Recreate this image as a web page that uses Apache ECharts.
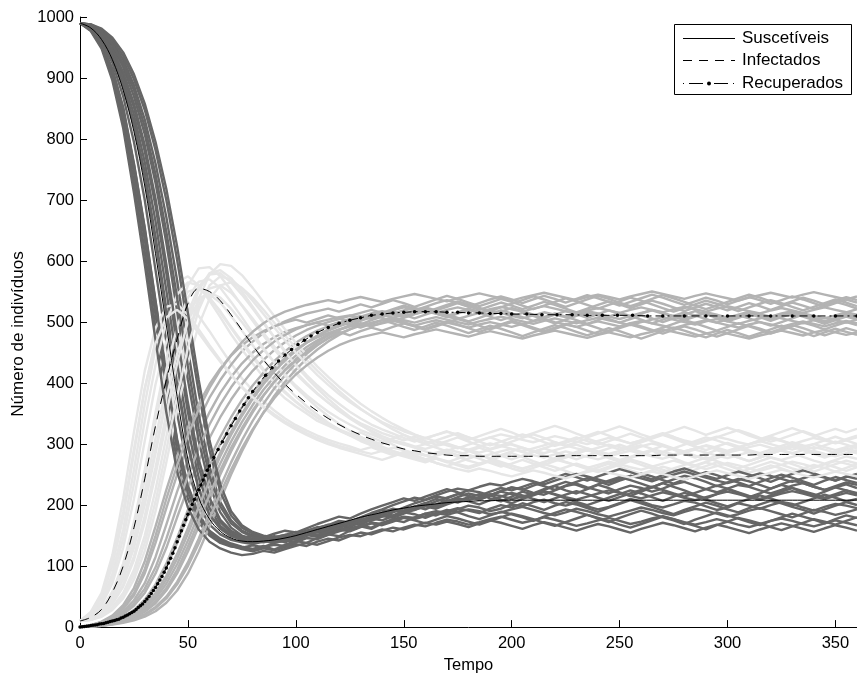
<!DOCTYPE html>
<html>
<head>
<meta charset="utf-8">
<script src="https://cdn.jsdelivr.net/npm/echarts/dist/echarts.min.js"></script>
<style>
  html, body { margin: 0; padding: 0; background: #fff; }
  #chart { width: 857px; height: 679px; }
</style>
</head>
<body>
<div id="chart"></div>
<script>
// Time grid shared by the stochastic realizations and the S / I curves
const tempo = [0,5,10,15,20,25,30,35,40,45,50,55,60,65,70,75,80,85,90,95,100,105,110,115,120,125,130,135,140,145,150,155,160,165,170,175,180,185,190,195,200,205,210,215,220,225,230,235,240,245,250,255,260,265,270,275,280,285,290,295,300,305,310,315,320,325,330,335,340,345,350,355,360];

// Deterministic SIR solution
const sDet = [990,982,963,930,880,812,723,612,495,378,275,212,177,157,146,141,140,141,143,146,150,155,160,165,170,175,180,184,188,192,195,198,200,202,204,205,206,207,207,208,208,208,208,208,208,208,208,208,208,208,208,208,208,208,208,208,208,208,208,208,208,208,208,208,208,208,208,208,208,208,208,208,208];
const iDet = [10,16,29,57,100,163,243,330,405,472,530,555,550,535,512,487,462,438,417,398,382,367,354,342,332,323,315,308,302,297,292,289,286,284,282,281,281,280,280,280,280,280,280,280,280,281,281,281,281,281,281,281,281,281,282,282,282,282,282,282,282,282,282,283,283,283,283,283,283,283,283,283,283];
// Recovered curve is sampled at the solver's (variable) steps; a marker sits on each one
const rTempo = [0,1,2,3,4,5,6,7,8,9,10,11,12,13,14,15,16,17,18,19,20,21,22,23,24,25,26,27,28,29,30,31,32,33,34,35,36,37,38,39,40,41,42,43,44,45,46,47,48,49,50,51,52,53,54,55,56,57,58,59,60,62,64,66,68,70,72,74,76,78,80,83,86,89,92,95,98,101,104,107,110,115,120,125,130,135,140,145,150,155,160,165,170,175,180,185,190,195,200,207,214,221,228,235,242,249,256,263,270,280,290,300,310,320,330,340,350,360];
const rDet = [0,0.5,1,1.5,2,2.5,3,3.5,4,5,5.5,6,7,8,9,10,11,12,13,15,16,18,20,22,24,26,29,32,35,38,42,46,50,55,60,65,71,77,83,90,97,105,113,121,130,140,149,158,167,176,185,193,201,209,217,225,233,241,249,257,264,278,291,304,317,330,342,354,365,376,386,400,413,425,436,446,455,463,470,477,483,491,498,503,507,511,513,515,516,517,517,517,516,516,515,515,514,514,513,513,512,512,512,511,511,511,511,510,510,510,510,510,510,510,510,510,510,510];

// Stochastic realizations: susceptible
const sRuns = [
  [990,978,952,905,830,728,615,490,372,272,210,172,150,138,132,130,134,131,138,142,140,150,156,152,163,170,168,178,185,182,190,198,193,201,208,204,212,218,211,206,214,222,217,225,231,224,219,226,233,228,221,215,222,229,236,230,224,217,211,218,226,220,213,219,227,233,228,221,215,222,229,224,218],
  [990,980,956,915,852,760,655,535,418,308,232,185,158,145,137,132,128,133,127,135,141,138,146,152,149,158,165,161,170,176,172,180,186,183,190,195,191,187,194,200,196,203,198,192,199,205,201,195,189,196,202,208,203,197,191,185,192,198,204,199,193,188,195,201,207,203,197,192,186,193,199,205,200],
  [990,981,960,925,870,795,700,585,468,350,258,200,168,152,143,139,136,140,144,139,147,153,150,158,165,171,168,176,182,179,186,192,198,194,201,207,213,209,216,222,218,212,219,226,232,238,233,227,234,240,246,241,235,229,236,242,248,244,238,231,237,243,239,233,227,234,240,236,230,225,231,237,233],
  [990,983,965,935,890,828,745,640,522,405,300,228,185,162,150,144,141,145,140,148,152,158,155,162,168,164,172,178,175,182,188,185,179,186,192,188,182,177,183,189,185,180,174,181,187,193,189,184,178,172,179,185,191,186,180,175,169,176,182,188,183,178,172,167,174,180,186,181,176,170,177,183,179],
  [990,985,970,944,905,852,780,690,580,462,352,262,205,172,155,146,142,139,143,147,143,150,156,161,158,166,173,180,186,183,190,197,203,210,206,213,219,215,222,228,224,230,236,231,225,232,238,244,239,233,240,246,252,247,241,235,242,248,254,249,243,237,231,238,244,250,245,239,233,240,246,241,236],
  [990,986,974,952,918,870,808,728,630,518,405,305,232,188,163,150,144,141,138,142,146,151,148,155,160,157,164,170,167,173,179,175,170,176,182,178,173,168,174,180,186,182,177,171,166,172,178,184,179,174,168,163,169,175,181,177,171,166,160,167,173,179,175,170,164,159,165,171,177,173,168,174,180],
  [990,987,977,958,930,888,832,760,672,568,455,348,262,205,175,158,150,146,149,145,152,158,164,160,167,174,171,178,185,191,188,195,201,197,204,210,206,201,208,214,220,216,210,205,211,217,223,218,212,207,213,219,225,230,225,219,214,220,226,232,227,221,215,210,216,222,228,223,218,212,218,224,220],
  [990,979,954,910,842,745,635,512,395,290,220,178,154,140,133,128,124,129,126,131,136,133,140,145,142,149,155,152,158,163,160,166,171,168,173,169,164,170,175,171,166,161,167,172,168,163,158,164,169,165,160,155,161,166,171,167,162,157,163,168,164,159,154,160,165,170,166,161,156,162,167,163,158],
  [990,984,967,940,898,840,762,665,552,432,325,245,195,166,152,146,150,147,153,158,155,162,169,175,181,178,186,193,199,205,211,207,214,220,226,221,215,210,216,209,203,210,216,222,217,211,205,200,206,212,218,224,219,213,207,214,220,215,209,203,198,204,210,216,211,205,199,205,211,217,212,206,210],
  [990,988,979,962,936,898,848,782,700,602,492,385,290,222,183,163,153,148,145,150,147,153,159,156,163,170,177,174,181,188,195,192,199,206,212,218,215,209,216,223,229,225,232,238,245,251,246,240,247,253,259,254,248,242,249,255,260,254,248,243,249,255,250,244,238,245,251,257,252,246,240,247,243],
  [990,980,957,914,850,758,652,532,415,305,230,183,157,143,134,129,127,131,135,133,139,146,144,151,157,162,166,163,171,177,181,179,186,190,187,193,199,196,190,194,201,198,205,209,203,199,204,198,193,197,203,210,206,200,196,201,207,204,198,192,196,203,199,194,200,205,202,196,191,197,202,199,195],
  [990,982,964,933,886,822,738,632,515,398,296,226,184,161,149,143,138,141,147,151,149,156,163,167,174,172,179,186,192,189,196,203,208,214,211,218,224,221,216,223,229,226,220,217,224,231,235,229,224,219,226,232,228,222,227,234,238,232,226,221,227,233,230,224,219,225,232,236,230,225,229,234,228],
  [990,985,971,947,910,858,790,702,595,478,368,275,212,176,158,149,145,142,146,141,148,153,151,157,163,160,166,171,169,175,180,177,182,187,184,189,193,190,185,188,193,197,192,187,183,188,194,190,185,181,186,191,196,192,187,183,189,194,191,186,181,185,191,195,190,185,180,186,192,189,184,188,193],
  [990,987,976,955,924,880,820,742,648,540,428,325,248,198,170,156,148,144,141,146,151,157,162,168,166,173,180,187,193,200,206,212,209,216,222,227,224,230,235,232,238,243,239,234,240,246,251,247,242,237,243,248,244,239,245,250,255,250,245,240,236,241,247,252,248,243,238,244,249,245,240,246,251],
  [990,977,948,896,818,712,595,470,352,255,196,160,140,129,122,118,120,125,122,128,133,138,135,141,147,151,149,155,160,157,163,168,165,171,176,173,168,172,177,181,176,171,175,180,176,171,166,170,175,179,174,169,173,178,182,177,172,168,172,177,173,168,164,169,174,178,174,169,165,170,175,171,167],
  [990,988,981,966,942,906,858,795,718,624,515,405,306,234,190,167,156,150,147,151,156,153,159,165,171,168,175,182,188,194,191,197,203,200,206,211,208,213,218,215,210,214,219,223,218,213,209,214,219,224,220,215,211,216,221,217,212,208,213,218,222,218,213,209,214,219,223,219,214,210,215,220,216]
];

// Stochastic realizations: infected
const iRuns = [
  [10,22,48,100,180,285,390,470,522,541,533,510,485,458,432,408,388,370,355,342,331,322,314,307,301,296,290,295,288,282,287,280,275,281,286,279,273,268,274,280,285,279,272,266,272,278,284,290,284,277,271,277,283,289,283,277,270,265,271,277,283,278,272,278,284,290,285,279,273,268,274,280,276],
  [10,20,42,88,160,258,365,458,525,565,575,560,535,508,480,455,432,410,392,375,362,350,338,330,322,314,319,311,304,309,315,308,301,306,312,318,311,304,298,304,310,316,310,303,297,302,308,314,320,314,307,301,306,312,318,312,305,299,305,311,317,323,317,310,304,309,315,321,315,308,302,308,314],
  [10,18,36,72,130,210,305,398,468,520,550,555,540,518,492,468,445,423,403,386,370,356,343,332,323,315,308,300,294,288,283,289,282,276,270,276,282,276,269,263,268,274,268,262,256,262,268,262,257,263,269,275,270,264,258,252,258,264,270,265,259,253,259,265,271,266,260,255,261,267,262,256,262],
  [10,16,30,58,104,172,258,352,440,510,560,588,590,575,552,527,502,478,455,434,415,398,382,368,355,344,334,326,318,312,306,312,305,299,305,311,304,298,292,298,304,310,316,310,303,297,303,309,303,297,291,297,303,309,315,309,302,296,290,296,302,296,290,285,291,297,303,298,292,298,304,299,293],
  [10,15,26,50,88,145,222,310,395,465,515,540,545,532,510,486,462,438,416,396,378,362,348,335,324,314,305,298,291,285,280,275,270,276,271,265,260,266,272,266,260,255,261,267,262,256,250,256,262,268,263,257,251,257,263,258,252,258,264,270,265,259,253,259,265,260,254,260,266,261,255,261,267],
  [10,14,24,44,78,130,200,285,372,450,515,558,578,580,565,545,522,498,475,453,432,413,396,380,366,353,342,332,324,317,310,304,310,304,298,293,299,305,311,305,299,293,287,293,299,305,311,305,299,305,311,317,311,305,299,293,299,305,311,306,300,294,300,306,312,306,300,294,300,306,312,306,300],
  [10,13,21,38,66,110,172,250,335,415,482,528,555,560,548,528,506,482,460,438,418,400,383,368,354,342,331,322,313,306,300,294,288,283,289,295,289,282,276,282,288,294,288,281,275,281,287,293,287,280,274,279,285,291,297,291,284,278,284,290,284,278,272,278,284,290,296,290,284,278,284,290,285],
  [10,12,19,33,56,94,150,225,312,400,478,538,578,595,592,577,556,533,510,488,466,446,427,410,394,380,366,354,343,333,324,316,309,315,321,314,307,313,319,325,319,312,318,324,330,324,317,311,317,323,329,323,316,310,316,322,328,322,315,321,327,321,314,308,314,320,326,320,313,319,325,319,325],
  [10,12,17,28,47,78,125,190,270,355,432,495,538,560,565,556,540,520,499,478,458,438,420,403,387,372,358,346,334,324,315,307,300,294,288,282,288,294,288,281,275,281,287,293,287,281,275,281,287,293,299,293,287,281,287,293,287,281,275,281,287,293,287,281,287,293,299,293,287,281,287,293,288],
  [10,25,56,118,210,320,420,490,525,530,512,488,462,438,414,393,375,360,346,334,324,315,307,300,294,289,284,279,274,280,286,281,275,269,264,270,276,282,277,271,265,259,265,271,277,271,265,259,254,260,266,272,266,260,254,260,266,272,278,272,266,260,266,272,278,273,267,261,255,261,267,273,268],
  [10,19,40,80,145,235,338,430,500,545,565,560,540,515,490,465,442,420,401,384,369,355,343,333,324,317,311,305,300,306,302,296,292,297,301,295,290,286,291,296,300,294,289,285,290,295,299,293,288,284,289,294,298,292,287,283,288,293,297,291,286,290,295,299,294,289,285,290,295,291,286,291,296],
  [10,16,28,54,96,160,242,336,422,492,540,566,570,556,533,508,482,457,434,412,393,376,360,346,333,322,312,303,296,289,283,278,273,277,272,267,263,268,273,269,264,260,265,270,275,270,265,261,266,271,267,262,258,263,268,273,268,264,259,264,269,265,260,256,261,266,271,267,262,267,272,268,263],
  [10,14,25,46,82,136,208,292,376,448,502,535,548,540,522,500,477,455,434,414,396,380,366,353,342,332,323,316,309,304,299,295,300,305,300,295,291,296,301,297,292,288,293,298,303,298,293,289,294,299,295,290,296,301,297,292,288,293,298,294,289,295,300,305,300,295,291,296,300,295,290,295,299],
  [10,13,22,40,70,116,182,262,350,432,502,552,580,585,572,550,525,500,475,451,429,409,391,374,359,345,332,320,309,299,290,282,275,269,264,259,255,260,256,251,247,252,257,253,248,244,249,254,258,253,249,245,250,255,251,246,242,247,252,257,252,248,243,248,253,258,254,249,245,250,255,251,247],
  [10,23,52,108,190,292,392,465,508,520,505,482,458,435,413,394,377,362,349,337,327,318,310,303,297,292,288,284,289,294,290,285,281,286,291,287,282,278,283,288,292,287,282,278,283,288,284,279,275,280,285,289,284,280,276,281,286,291,286,281,277,282,287,283,278,274,279,284,289,284,280,285,290],
  [10,12,18,31,52,86,138,206,290,378,458,520,560,575,570,555,535,513,491,470,450,431,413,397,382,369,357,346,336,328,321,315,310,315,320,316,311,306,311,316,312,307,303,308,313,309,304,300,305,310,306,301,306,311,316,311,306,302,307,312,308,303,299,304,309,305,300,305,310,306,301,306,311]
];

// Stochastic realizations: recovered
const rRuns = [
  [0,3,8,16,30,52,88,138,195,250,298,340,376,405,430,452,468,482,493,501,508,514,518,522,517,523,529,524,530,536,531,525,531,537,543,538,532,526,532,538,533,527,521,527,533,539,534,528,522,528,534,540,535,529,523,517,523,529,535,530,524,518,524,530,536,531,525,519,525,531,537,532,526],
  [0,3,7,14,26,44,72,115,168,222,272,315,352,384,410,432,450,464,475,484,490,495,499,494,500,496,491,497,503,498,492,487,493,499,494,488,482,488,494,489,483,477,483,489,495,490,484,478,484,490,485,479,473,479,485,491,486,480,475,481,487,482,476,482,488,494,489,483,477,483,489,484,479],
  [0,2,6,12,21,35,56,88,130,180,228,272,310,344,373,398,420,438,454,467,478,487,494,500,505,510,515,520,515,521,527,522,516,522,528,534,529,523,518,524,530,536,542,537,531,525,531,537,543,538,532,526,532,538,544,539,533,527,521,527,533,539,545,540,534,528,534,540,535,529,535,541,536],
  [0,2,5,10,17,28,45,70,104,146,192,236,276,312,344,372,396,417,436,452,466,477,486,493,499,505,510,505,511,517,512,506,512,518,513,507,501,507,513,519,514,508,502,508,514,509,503,497,503,509,515,510,504,498,504,510,516,511,505,499,505,511,506,500,494,500,506,512,507,501,507,513,508],
  [0,1,4,8,14,23,36,56,84,120,162,206,248,286,320,350,377,400,420,438,453,466,477,486,493,499,504,508,512,507,513,519,524,519,525,531,526,520,526,532,527,521,527,533,528,522,516,522,528,534,529,523,529,535,530,524,518,524,530,525,519,525,531,526,520,526,532,527,521,527,533,528,522],
  [0,1,3,7,12,19,30,47,71,103,142,185,228,268,304,336,364,389,410,429,445,459,470,479,487,493,498,493,499,505,500,494,489,495,501,496,490,484,490,496,502,497,491,485,491,497,492,486,480,486,492,498,493,487,481,487,493,488,482,476,482,488,494,489,483,489,495,490,484,478,484,490,485],
  [0,1,3,6,10,16,25,39,60,88,124,165,208,250,288,322,352,379,402,422,439,454,467,478,487,495,502,508,513,519,524,519,525,531,536,531,525,531,537,542,537,531,537,543,538,532,538,544,539,533,527,533,539,545,540,534,528,534,540,535,529,535,541,536,530,536,542,537,531,525,531,537,532],
  [0,1,2,5,9,14,21,33,50,74,106,145,188,230,270,306,338,366,391,413,432,448,462,474,484,478,485,491,486,492,498,493,487,493,499,505,500,494,488,494,500,495,489,483,489,495,501,496,490,484,490,496,491,485,491,497,503,498,492,486,492,498,493,487,481,487,493,499,494,488,494,500,495],
  [0,1,2,4,7,11,17,26,40,60,88,124,165,208,250,288,322,352,379,402,422,440,455,468,479,488,496,503,509,514,509,515,521,516,510,516,522,517,511,517,523,518,512,506,512,518,513,507,513,519,514,508,514,520,515,509,503,509,515,510,504,510,516,511,505,511,517,512,506,500,506,512,507],
  [0,3,9,19,36,64,108,165,225,280,327,366,398,424,445,462,475,485,493,499,504,499,505,511,506,500,506,512,507,501,507,513,519,514,508,514,520,515,509,503,509,515,510,504,498,504,510,516,511,505,499,505,511,506,500,506,512,518,513,507,501,507,513,508,502,508,514,509,503,497,503,509,504],
  [0,2,6,13,23,39,63,98,145,198,248,293,332,365,393,417,437,454,468,479,488,495,500,504,508,511,507,512,516,512,508,513,517,514,509,505,510,515,519,515,510,506,511,516,512,508,513,518,514,509,505,510,515,519,514,510,506,511,516,512,507,512,517,513,509,514,518,514,510,506,511,516,512],
  [0,2,5,9,16,26,42,66,98,138,182,225,265,300,332,360,385,406,425,441,455,466,475,482,488,493,497,494,498,502,498,494,499,503,499,495,491,496,500,496,492,497,501,505,500,496,492,497,501,497,493,498,502,498,494,490,495,499,503,499,495,491,496,500,496,492,497,501,497,493,498,502,498],
  [0,1,4,8,13,21,33,51,78,112,153,197,240,280,315,346,374,398,419,437,453,467,478,488,496,503,509,514,518,514,519,523,519,515,520,524,520,516,521,525,521,517,522,526,522,518,514,519,523,519,515,520,524,520,516,521,525,521,517,522,526,522,518,514,519,523,519,515,520,524,520,516,521],
  [0,1,3,6,11,17,27,42,64,94,132,174,217,257,294,326,355,380,402,421,437,451,463,473,481,488,494,499,503,507,503,499,504,508,504,500,496,501,505,509,505,501,497,502,506,502,498,503,507,503,499,495,500,504,508,504,500,496,501,505,501,497,502,506,510,506,502,498,503,507,503,499,504],
  [0,3,8,17,32,56,95,150,210,265,315,357,392,421,446,467,484,498,509,517,523,528,532,536,532,537,541,537,533,538,542,546,542,538,534,539,543,547,543,539,535,540,544,548,544,540,536,541,545,541,537,542,546,550,546,542,538,543,547,543,539,535,540,544,548,544,540,545,549,545,541,537,542],
  [0,1,2,5,8,13,20,31,47,70,100,137,178,219,258,293,324,351,375,396,414,429,442,453,462,469,475,479,483,479,475,480,484,488,484,480,476,481,485,481,477,473,478,482,486,482,478,474,479,483,479,475,480,484,488,484,480,476,481,485,481,477,473,478,482,486,482,478,483,487,483,479,483]
];

const legendNames = ['Suscetíveis', 'Infectados', 'Recuperados'];
const xTicks = { min: 0, max: 360, step: 50 };
const yTicks = { min: 0, max: 1000, step: 100 };

const FONT = '"Liberation Sans", Arial, Helvetica, sans-serif';
const runColors = { s: '#666666', i: '#e6e6e6', r: '#b3b3b3' };

const pairs = (xs, ys) => ys.map((v, k) => [xs[k], v]);

const series = [];
// each realization draws its three compartments in turn
for (let k = 0; k < sRuns.length; k++) {
  [[sRuns[k], runColors.s], [iRuns[k], runColors.i], [rRuns[k], runColors.r]].forEach(([vals, color]) => {
    series.push({
      type: 'line',
      data: pairs(tempo, vals),
      symbol: 'none',
      silent: true,
      z: 1,
      lineStyle: { color: color, width: 2.4 },
      emphasis: { disabled: true }
    });
  });
}

series.push({
  name: legendNames[0], type: 'line', data: pairs(tempo, sDet),
  symbol: 'none', smooth: 0.35, z: 5,
  lineStyle: { color: '#000', width: 1 }, itemStyle: { color: '#000' }
});
series.push({
  name: legendNames[1], type: 'line', data: pairs(tempo, iDet),
  symbol: 'none', smooth: 0.35, z: 5,
  lineStyle: { color: '#000', width: 1, type: [9, 7] }, itemStyle: { color: '#000' }
});
series.push({
  name: legendNames[2], type: 'line', data: pairs(rTempo, rDet),
  symbol: 'circle', symbolSize: 3.5, showSymbol: true, z: 6,
  lineStyle: { color: '#000', width: 1, type: [8, 4, 2, 4] }, itemStyle: { color: '#000' }
});

// Legend box drawn by hand so each sample shows its own line style
const legendBox = { left: 674, top: 24, width: 177, height: 70 };
const legendRowsY = [38, 60, 83];
const sampleX = [683, 735];
const legendGraphics = [
  { type: 'rect', shape: { x: legendBox.left + 0.5, y: legendBox.top + 0.5, width: legendBox.width, height: legendBox.height },
    style: { fill: '#fff', stroke: '#000', lineWidth: 1 }, z: 100 },
  { type: 'line', shape: { x1: sampleX[0], y1: legendRowsY[0] + 0.5, x2: sampleX[1], y2: legendRowsY[0] + 0.5 },
    style: { stroke: '#000', lineWidth: 1 }, z: 101 },
  { type: 'line', shape: { x1: sampleX[0], y1: legendRowsY[1] + 0.5, x2: sampleX[1], y2: legendRowsY[1] + 0.5 },
    style: { stroke: '#000', lineWidth: 1, lineDash: [9, 7] }, z: 101 },
  { type: 'line', shape: { x1: sampleX[0], y1: legendRowsY[2] + 0.5, x2: sampleX[1], y2: legendRowsY[2] + 0.5 },
    style: { stroke: '#000', lineWidth: 1, lineDash: [1, 5, 14, 5] }, z: 101 },
  { type: 'circle', shape: { cx: (sampleX[0] + sampleX[1]) / 2, cy: legendRowsY[2] + 0.5, r: 2 },
    style: { fill: '#000' }, z: 102 }
];
legendNames.forEach((name, k) => {
  legendGraphics.push({
    type: 'text', x: 742, y: legendRowsY[k], z: 101,
    style: { text: name, font: '17px ' + FONT, fill: '#000', align: 'left', verticalAlign: 'middle' }
  });
});

const chart = echarts.init(document.getElementById('chart'), null, { renderer: 'canvas' });
chart.setOption({
  animation: false,
  backgroundColor: '#fff',
  grid: { left: 80, top: 17, width: 780, height: 613, containLabel: false },
  xAxis: {
    type: 'value', min: xTicks.min, max: xTicks.max, interval: xTicks.step,
    name: 'Tempo', nameLocation: 'middle', nameGap: 29,
    nameTextStyle: { fontFamily: FONT, fontSize: 16.5, color: '#000' },
    axisLine: { show: true, onZero: false, lineStyle: { color: '#000', width: 1 } },
    axisTick: { show: true, inside: true, length: 7, lineStyle: { color: '#000' } },
    axisLabel: { fontFamily: FONT, fontSize: 16.5, color: '#000', margin: 8, formatter: v => String(v) },
    splitLine: { show: false }
  },
  yAxis: {
    type: 'value', min: yTicks.min, max: yTicks.max, interval: yTicks.step,
    axisLine: { show: true, onZero: false, lineStyle: { color: '#000', width: 1 } },
    axisTick: { show: true, inside: true, length: 7, lineStyle: { color: '#000' } },
    axisLabel: { fontFamily: FONT, fontSize: 16.5, color: '#000', margin: 6, formatter: v => String(v) },
    splitLine: { show: false }
  },
  graphic: [{
    type: 'text', x: 18, y: 334, rotation: Math.PI / 2,
    style: { text: 'Número de indivíduos', font: '17px ' + FONT, fill: '#000', align: 'center', verticalAlign: 'middle' }
  }].concat(legendGraphics),
  series: series
});
</script>
</body>
</html>
